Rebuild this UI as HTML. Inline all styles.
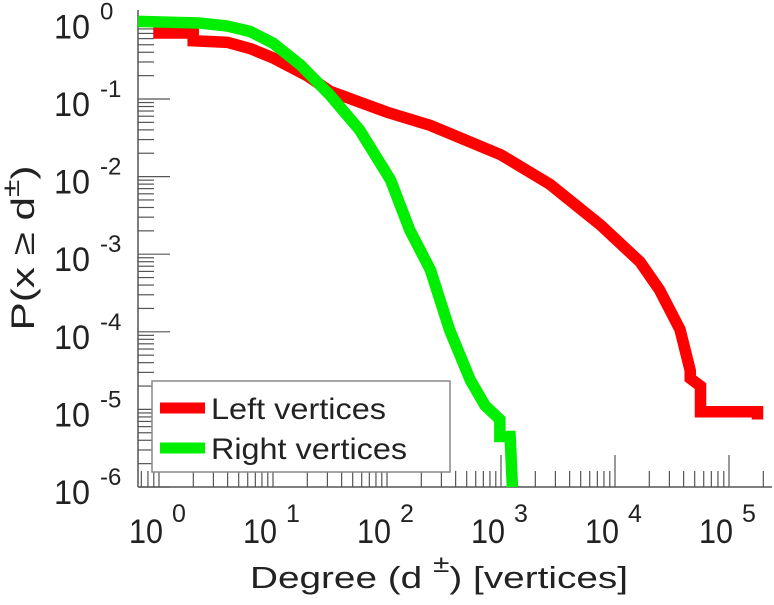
<!DOCTYPE html>
<html><head><meta charset="utf-8"><style>
body{margin:0;background:#fff;width:774px;height:600px;overflow:hidden}
svg text{font-family:"Liberation Sans",sans-serif;fill:#222}
</style></head><body>
<svg id="chart" width="774" height="600">
<g id="ticks"></g>
<g id="series"></g>
<g id="labels"></g>
<text x="250" y="588" font-size="31" textLength="378" lengthAdjust="spacingAndGlyphs">Degree (d <tspan dy="-16" font-size="24">  ±</tspan><tspan dy="16">) [vertices]</tspan></text>
<text transform="translate(34,248) rotate(-90)" font-size="32" text-anchor="middle" textLength="165" lengthAdjust="spacingAndGlyphs">P(x ≥ d<tspan dy="-15" font-size="24">±</tspan><tspan dy="15">)</tspan></text>
<g>
<rect x="152" y="381" width="298" height="91" fill="#fff" stroke="#888" stroke-width="1.5"/>
<line x1="160" y1="408" x2="205" y2="408" stroke="#f00" stroke-width="11"/>
<text x="211" y="419" font-size="30" textLength="175" lengthAdjust="spacingAndGlyphs">Left vertices</text>
<line x1="160" y1="448" x2="205" y2="448" stroke="#0e0" stroke-width="11"/>
<text x="211" y="459" font-size="30" textLength="196" lengthAdjust="spacingAndGlyphs">Right vertices</text>
</g>
</svg>
<script>
const leftLogX=[-0.05,0.3,0.3,0.6,0.8,1.0,1.3,1.5,2.0,2.38,3.0,3.43,3.87,4.22,4.39,4.57,4.66,4.66,4.75,4.75,5.25,5.25];
const leftLogP=[-0.15,-0.15,-0.25,-0.27,-0.35,-0.47,-0.7,-0.9,-1.17,-1.34,-1.72,-2.1,-2.62,-3.1,-3.46,-3.97,-4.5,-4.6,-4.7,-5.03,-5.03,-5.13];
const rightLogX=[-0.2,0.35,0.6,0.8,1.0,1.24,1.5,1.76,2.03,2.2,2.38,2.55,2.73,2.86,2.99,2.99,3.08,3.1];
const rightLogP=[0,-0.02,-0.06,-0.13,-0.28,-0.56,-0.95,-1.4,-2.04,-2.69,-3.2,-3.98,-4.62,-4.95,-5.13,-5.35,-5.35,-6.1];
const xMajor=[0,1,2,3,4,5];
const yMajor=[0,-1,-2,-3,-4,-5,-6];
const X0=159,DX=114,Y0=21.4,DY=77.6;
const sx=v=>X0+v*DX, sy=v=>Y0-v*DY;
const NS="http://www.w3.org/2000/svg";
function mk(tag,attrs,parent){const e=document.createElementNS(NS,tag);for(const k in attrs)e.setAttribute(k,attrs[k]);parent.appendChild(e);return e;}
const tk=document.getElementById('ticks'),lb=document.getElementById('labels'),sr=document.getElementById('series');
const L=138,B=487,R=772,T=10;
let a=mk('line',{x1:L,y1:T,x2:L,y2:B,stroke:'#555','stroke-width':1.5},tk);


a=mk('line',{x1:L,y1:B,x2:R,y2:B,stroke:'#555','stroke-width':1.5},tk);


for(let d=-1;d<=5;d++){for(let m=1;m<10;m++){const v=d+Math.log10(m);const x=sx(v);if(x<L||x>R)continue;
 const len=m==1?32:16;const t=mk('line',{x1:x,y1:B,x2:x,y2:B-len,stroke:'#555','stroke-width':1.2},tk);
 
 }}
for(let d=-6;d<=0;d++){for(let m=1;m<10;m++){const v=d+Math.log10(m);const y=sy(v);if(y<T||y>B)continue;
 const len=m==1?32:16;const t=mk('line',{x1:L,y1:y,x2:L+len,y2:y,stroke:'#555','stroke-width':1.2},tk);
 
 }}
xMajor.forEach(v=>{
 const t=mk('text',{x:sx(v)+4,y:543,'font-size':34,'text-anchor':'end',textLength:34,lengthAdjust:'spacingAndGlyphs'},lb);
 t.textContent='10';
 
 
 const s=mk('text',{x:sx(v)+13,y:522,'font-size':25},lb);
 s.textContent=String(v);
 
 });
yMajor.forEach(v=>{
 const y=sy(v)+17;
 const t=mk('text',{x:90,y:y,'font-size':34,'text-anchor':'end',textLength:36,lengthAdjust:'spacingAndGlyphs'},lb);
 t.textContent='10';
 
 
 const s=mk('text',{x:100,y:y-19,'font-size':24},lb);
 s.textContent=(v==0?'0':'-'+(-v));
 
 });
function line(xs,ys,col,name){const p=xs.map((x,i)=>Math.max(L,sx(x))+','+Math.min(B,sy(ys[i]))).join(' ');
 const e=mk('polyline',{points:p,fill:'none',stroke:col,'stroke-width':11.5,'stroke-linejoin':'miter'},sr);
 
 }
line(leftLogX,leftLogP,'#f00','left-vertices-line');
line(rightLogX,rightLogP,'#0e0','right-vertices-line');
</script>
</body></html>
